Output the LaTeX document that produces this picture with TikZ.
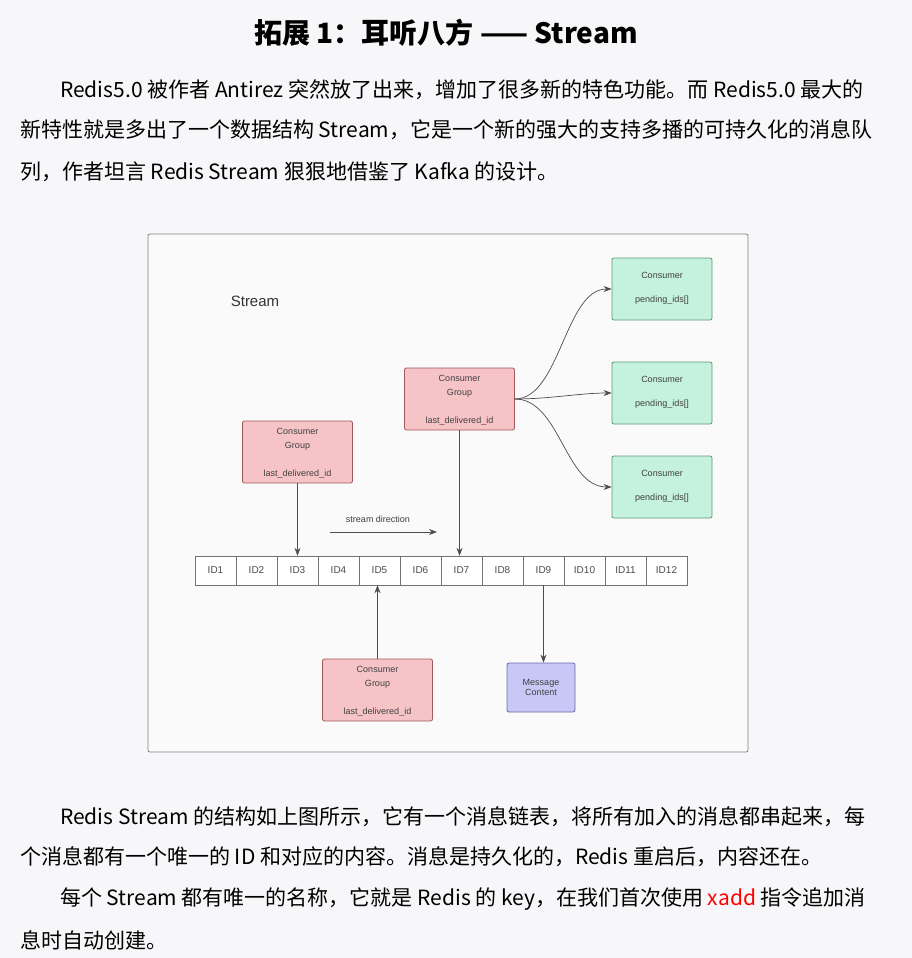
\documentclass[tikz,border=0pt]{standalone}
\usepackage{fontspec}
\setmainfont{Liberation Sans}
\newfontfamily\cjk{Noto Sans CJK SC}
\usetikzlibrary{arrows.meta}
\definecolor{bg}{HTML}{F7F7F9}
\definecolor{grn}{HTML}{C4F2DE}
\definecolor{grnb}{HTML}{5C9A7E}
\definecolor{pnk}{HTML}{F6C4C6}
\definecolor{pnkb}{HTML}{A0585C}
\definecolor{pur}{HTML}{C8C8F6}
\definecolor{purb}{HTML}{6A6AB0}
\tikzset{
 para/.style={anchor=west,font=\cjk\fontsize{21}{24}\selectfont,inner sep=0},
 box/.style={draw,rounded corners=2pt,line width=0.8pt,minimum width=100pt,minimum height=62pt,inner sep=0},
 cons/.style={box,fill=grn,draw=grnb},
 cg/.style={box,fill=pnk,draw=pnkb,minimum width=110pt},
 lab/.style={font=\fontsize{9}{10}\selectfont,text=black!75},
 idc/.style={draw=black!55,fill=white,minimum width=41pt,minimum height=29pt,inner sep=0,font=\fontsize{10}{11}\selectfont,text=black!70},
 arr/.style={-{Stealth[length=8pt,width=6pt]},black!70,line width=0.7pt}
}
\begin{document}
\begin{tikzpicture}[x=1pt,y=-1pt]
\fill[bg] (0,0) rectangle (912,958);
\useasboundingbox (0,0) rectangle (912,958);
\node[font=\cjk\bfseries\fontsize{28}{30}\selectfont] (title) at (446,33) {拓展 1：耳听八方 —— Stream};
\node[para] (p1) at (60,90) {Redis5.0 被作者 Antirez 突然放了出来，增加了很多新的特色功能。而 Redis5.0 最大的};
\node[para] (p2) at (20,130) {新特性就是多出了一个数据结构 Stream，它是一个新的强大的支持多播的可持久化的消息队};
\node[para] (p3) at (20,172) {列，作者坦言 Redis Stream 狠狠地借鉴了 Kafka 的设计。};
% frame
\node[draw=black!50,fill=bg!60!white,rounded corners=2pt,line width=0.8pt,minimum width=600pt,minimum height=518pt,inner sep=0] (frame) at (448,493) {};
\node[font=\fontsize{15}{16}\selectfont,text=black!80] (st) at (255,301) {Stream};
% consumers
\foreach \n/\y in {c1/289,c2/393,c3/487}{
 \node[cons] (\n) at (662,\y) {};
 \node[lab] at (662,\y-14) {Consumer};
 \node[lab] at (662,\y+11) {pending\_ids[]};
}
% consumer groups
\foreach \n/\x/\y in {g1/459.5/399,g2/297.5/452,g3/377.5/690}{
 \node[cg] (\n) at (\x,\y) {};
 \node[lab] at (\x,\y-21) {Consumer};
 \node[lab] at (\x,\y-6) {Group};
 \node[lab] at (\x,\y+22) {last\_delivered\_id};
}
\node[draw=purb,fill=pur,rounded corners=2pt,line width=0.8pt,minimum width=68pt,minimum height=49pt,inner sep=0,lab,align=center] (mc) at (541,687.5) {Message\\Content};
% ids
\foreach \i in {1,...,12}{
 \node[idc] (id\i) at ({195+41*(\i-0.5)},570.5) {ID\i};
}
\coordinate (sd1) at (330,532);
\coordinate (sd2) at (437,532);
\draw[arr] (sd1) -- (sd2);
\node[lab] (sdl) at (378,519) {stream direction};
\draw[arr] (g1.south) -- (g1.south |- id7.north);
\draw[arr] (g2.south) -- (g2.south |- id3.north);
\draw[arr] (g3.north) -- (g3.north |- id5.south);
\draw[arr] (id9.south) -- (id9.south |- mc.north);
\draw[arr] (g1.east) .. controls (560,399) and (565,289) .. (c1.west);
\draw[arr] (g1.east) .. controls (550,399) and (580,393) .. (c2.west);
\draw[arr] (g1.east) .. controls (560,399) and (565,487) .. (c3.west);
% bottom text
\node[para] (q1) at (60,817) {Redis Stream 的结构如上图所示，它有一个消息链表，将所有加入的消息都串起来，每};
\node[para] (q2) at (20,857) {个消息都有一个唯一的 ID 和对应的内容。消息是持久化的，Redis 重启后，内容还在。};
\node[para] (q3) at (60,899) {每个 Stream 都有唯一的名称，它就是 Redis 的 key，在我们首次使用 \textcolor{red}{xadd} 指令追加消};
\node[para] (q4) at (20,940) {息时自动创建。};
\end{tikzpicture}
\end{document}
